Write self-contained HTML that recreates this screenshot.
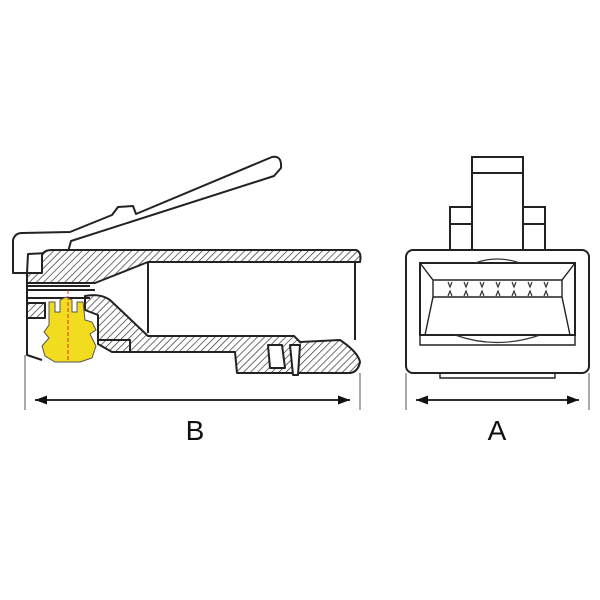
<!DOCTYPE html>
<html><head><style>body{margin:0;background:#fff}svg{display:block}</style></head><body>
<svg width="600" height="600" viewBox="0 0 600 600" xmlns="http://www.w3.org/2000/svg">
<defs>
<pattern id="h" width="5" height="5" patternUnits="userSpaceOnUse" patternTransform="rotate(45)">
<rect width="5" height="5" fill="#fff"/><line x1="0" y1="0" x2="0" y2="5" stroke="#333" stroke-width="1.4"/>
</pattern>
<marker id="ar" markerWidth="12" markerHeight="9" refX="12" refY="4.5" orient="auto" markerUnits="userSpaceOnUse">
<path d="M0,0 L12,4.5 L0,9 Z" fill="#111"/></marker>
</defs>
<g fill="none" stroke="#222" stroke-width="2" stroke-linejoin="round">
<path d="M13,273 L13,240 Q15,233 22,233 L70,232 L112,215 L118,207 L133,206 L136,214 L272,157 Q282,155 281,168 L274,176 L71,241 L68,252 L28,254 L27,273 Z" fill="#fff"/>
<path d="M42,255 Q44,250 52,250 L356,250 Q362,252 360,262 L148,262 L95,283 L27,283 L27,273 L42,273 Z" fill="url(#h)"/>
<path d="M27,303 L45,303 L45,318 L27,318 Z" fill="url(#h)"/>
<path d="M85,296 Q100,293 110,300 L148,336 L294,336 L300,342 L340,340 Q358,352 360,362 Q358,372 350,373 L237,373 L235,352 L112,352 L98,344 L98,315 L85,310 Z" fill="url(#h)"/>
<path d="M27,286 L90,286 M27,290 L95,290 M27,298 L90,298"/>
<line x1="148" y1="262" x2="148" y2="333"/>
<line x1="355" y1="262" x2="355" y2="340"/>
<path d="M98,340 L130,340 L130,352"/>
<path d="M27,283 L27,355 L42,360"/>
<path d="M268,345 L282,345 L285,368 L270,368 Z" fill="#fff"/>
<path d="M290,345 L300,345 L298,375 L293,375 Z" fill="#fff"/>
</g>
<path d="M49,302 L55,302 L55,312 L60,312 L60,300 L66,297 L72,300 L72,312 L77,312 L77,302 L83,302 L85,320 L92,322 L96,330 L90,334 L96,346 L92,358 L80,362 L55,362 L45,356 L42,346 L49,338 L44,332 L49,325 Z" fill="#f2dc1f" stroke="#555" stroke-width="1"/>
<line x1="68" y1="290" x2="68" y2="362" stroke="#e03020" stroke-width="1" stroke-dasharray="4,2"/>
<g stroke="#555" stroke-width="1">
<line x1="25" y1="355" x2="25" y2="410"/><line x1="360" y1="373" x2="360" y2="410"/>
<line x1="406" y1="373" x2="406" y2="410"/><line x1="589" y1="373" x2="589" y2="410"/>
</g>
<line x1="35" y1="400" x2="350" y2="400" stroke="#111" stroke-width="1.6" marker-end="url(#ar)"/>
<line x1="350" y1="400" x2="35" y2="400" stroke="#111" stroke-width="1.6" marker-end="url(#ar)"/>
<line x1="416" y1="400" x2="579" y2="400" stroke="#111" stroke-width="1.6" marker-end="url(#ar)"/>
<line x1="579" y1="400" x2="416" y2="400" stroke="#111" stroke-width="1.6" marker-end="url(#ar)"/>
<text x="195" y="440" font-family="Liberation Sans, sans-serif" font-size="28" text-anchor="middle" fill="#111">B</text>
<text x="497" y="440" font-family="Liberation Sans, sans-serif" font-size="28" text-anchor="middle" fill="#111">A</text>
<g fill="#fff" stroke="#222" stroke-width="2">
<rect x="472" y="157" width="51" height="93"/>
<line x1="472" y1="173" x2="523" y2="173"/>
<path d="M450,250 L450,207 L472,207 M545,250 L545,207 L523,207 M450,224 L472,224 M523,224 L545,224" fill="none"/>
<rect x="406" y="250" width="183" height="123" rx="7"/>
<path d="M420,263 L575,263 L575,335 L420,335 Z" fill="none"/>
<path d="M420,263 L433,280 L562,280 L575,263 M433,280 L433,297 M562,280 L562,297 M433,297 L562,297 L570,335 M433,297 L425,335" fill="none" stroke-width="1.4"/>
<path d="M420,335 L420,345 L575,345 L575,335" fill="none" stroke-width="1.4"/>
<path d="M440,373 L440,378 L555,378 L555,373" fill="none" stroke-width="1.4"/>
</g>
<g fill="none" stroke="#333" stroke-width="1.2">
<path d="M448,282 l2,5 l2,-5 M464,282 l2,5 l2,-5 M480,282 l2,5 l2,-5 M496,282 l2,5 l2,-5 M512,282 l2,5 l2,-5 M528,282 l2,5 l2,-5 M544,282 l2,5 l2,-5"/>
<path d="M448,296 l2,-5 l2,5 M464,296 l2,-5 l2,5 M480,296 l2,-5 l2,5 M496,296 l2,-5 l2,5 M512,296 l2,-5 l2,5 M528,296 l2,-5 l2,5 M544,296 l2,-5 l2,5"/>
<path d="M475,263 Q497,255 520,263 M455,335 Q497,350 540,335"/>
</g>
</svg>
</body></html>
